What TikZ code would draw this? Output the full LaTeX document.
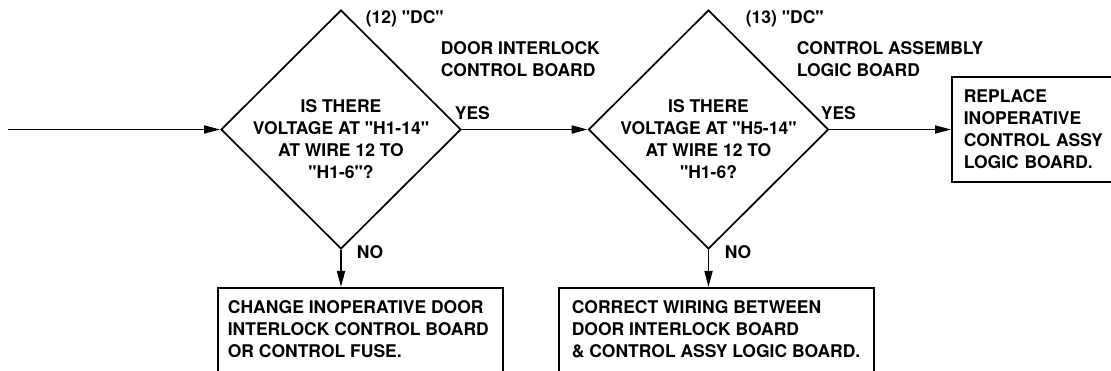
\documentclass[tikz,border=0pt]{standalone}
\usepackage{fontspec}
\setmainfont{TeX Gyre Heros}[Ligatures=TeXOff]
\usetikzlibrary{positioning,arrows.meta,shapes.geometric}

\begin{document}
\begin{tikzpicture}[x=1pt,y=-1pt,>={Triangle[length=16pt,width=8pt]},line width=1.7pt,
  every node/.style={font=\fontsize{17.5}{22}\selectfont\bfseries,inner sep=0pt},
  check/.style={draw,diamond,minimum width=240pt,minimum height=239pt},
  ask/.style={align=center,yshift=-10pt},
  tag/.style={anchor=base west},
  note/.style={anchor=west,align=left},
  fixbox/.style={draw,minimum width=#1,minimum height=120pt,anchor=north west},
  fixtext/.style={align=left}]
\useasboundingbox (0,0) rectangle (1111,371);
\clip (0,0) rectangle (1111,371);
\coordinate (in) at (8,129.5);
\node[check] (q1) at (341,129.5) {};
\node[check] (q2) at (708.5,129.5) {};
\node[ask] (q1text) at (q1) {IS THERE\\VOLTAGE AT "H1-14"\\AT WIRE 12 TO\\"H1-6"?};
\node[ask] (q2text) at (q2) {IS THERE\\VOLTAGE AT "H5-14"\\AT WIRE 12 TO\\"H1-6?};
\node[tag] (dc1) at (365,24) {(12) "DC"};
\node[note] (board1) at (440,59) {DOOR INTERLOCK\\CONTROL BOARD};
\node[tag] (yes1) at (454,120) {YES};
\node[tag] (no1) at (356,259) {NO};
\node[tag] (dc2) at (745,24) {(13) "DC"};
\node[note] (board2) at (796,59) {CONTROL ASSEMBLY\\LOGIC BOARD};
\node[tag] (yes2) at (820,120) {YES};
\node[tag] (no2) at (724,259) {NO};
\node[fixbox=285pt] (fix1) at (217,287) {};
\node[fixtext,below right=13pt and 10pt of fix1.north west] (fix1text) {CHANGE INOPERATIVE DOOR\\INTERLOCK CONTROL BOARD\\OR CONTROL FUSE.};
\node[fixbox=315pt] (fix2) at (558,287) {};
\node[fixtext,below right=13pt and 13pt of fix2.north west] (fix2text) {CORRECT WIRING BETWEEN\\DOOR INTERLOCK BOARD\\\& CONTROL ASSY LOGIC BOARD.};
\node[draw,align=left,text width=165pt,inner xsep=12pt,minimum height=105pt,anchor=west] (replace) at (951,129.5) {REPLACE\\INOPERATIVE\\CONTROL ASSY\\LOGIC BOARD.};
\draw[->] (in) -- (q1.west);
\draw[->] (q1.east) -- (q2.west);
\draw[->] (q2.east) -- (replace.west);
\draw[->] (q1.south) -- (q1.south |- fix1.north);
\draw[->] (q2.south) -- (q2.south |- fix2.north);
\end{tikzpicture}
\end{document}
